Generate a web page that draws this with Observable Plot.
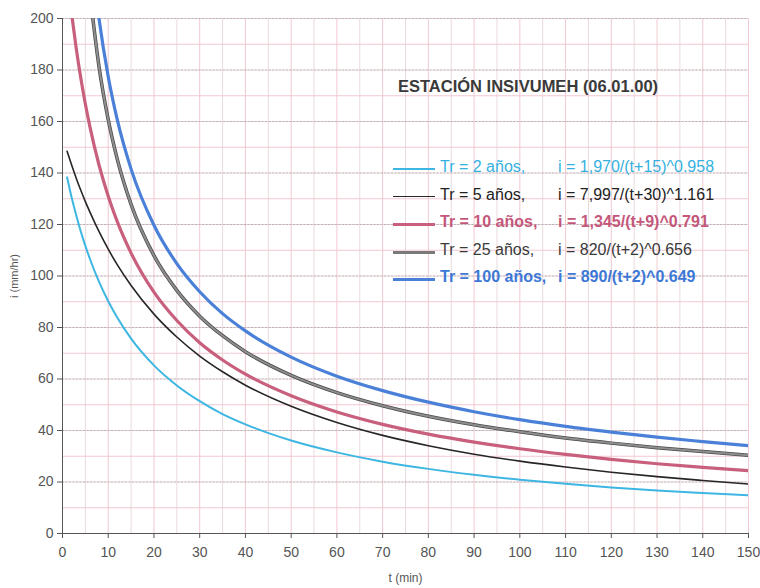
<!DOCTYPE html>
<html>
<head>
<meta charset="utf-8">
<script src="https://cdn.jsdelivr.net/npm/d3@7"></script>
<script src="https://cdn.jsdelivr.net/npm/@observablehq/plot@0.6"></script>
<style>
  html, body { margin: 0; padding: 0; background: #fff; }
  #wrap { position: relative; width: 760px; height: 588px; font-family: "Liberation Sans", Arial, sans-serif; }
  #title { position: absolute; left: 398px; top: 77px; font-size: 16.5px; font-weight: bold; color: #3a3a3a; white-space: nowrap; }
  #legend { position: absolute; left: 393px; top: 156px; }
  .row { position: relative; height: 27.5px; font-size: 16px; white-space: nowrap; }
  .row .swatch { position: absolute; left: 0; top: 12px; width: 42px; }
  .row .name { position: absolute; left: 47px; top: 2px; }
  .row .eq { position: absolute; left: 165px; top: 2px; }
</style>
</head>
<body>
<div id="wrap">
  <div id="chart"></div>
  <div id="title">ESTACIÓN INSIVUMEH (06.01.00)</div>
  <div id="legend"></div>
</div>
<script>
// Intensity-duration-frequency curves, i (mm/hr) against duration t (min)
const seriesNames = ["Tr = 2 años,", "Tr = 5 años,", "Tr = 10 años,", "Tr = 25 años,", "Tr = 100 años,"];
const equations = [
  "i = 1,970/(t+15)^0.958",
  "i = 7,997/(t+30)^1.161",
  "i = 1,345/(t+9)^0.791",
  "i = 820/(t+2)^0.656",
  "i = 890/(t+2)^0.649"
];

const t2 = [1, 2, 3, 4, 5, 6, 8, 10, 12, 15, 20, 25, 30, 35, 40, 50, 60, 70, 80, 90, 100, 110, 120, 130, 140, 150];
const i2 = [138.3, 130.5, 123.6, 117.3, 111.7, 106.6, 97.7, 90.2, 83.8, 75.7, 65.3, 57.5, 51.4, 46.4, 42.4, 36.1, 31.5, 27.9, 25.1, 22.8, 20.9, 19.3, 17.9, 16.7, 15.7, 14.8];

const t5 = [1, 2, 3, 4, 5, 6, 8, 10, 12, 15, 20, 25, 30, 35, 40, 50, 60, 70, 80, 90, 100, 110, 120, 130, 140, 150];
const i5 = [148.4, 143.1, 138.0, 133.3, 128.9, 124.8, 117.2, 110.4, 104.3, 96.3, 85.2, 76.3, 68.9, 62.8, 57.6, 49.4, 43.1, 38.1, 34.1, 30.8, 28.1, 25.8, 23.8, 22.1, 20.6, 19.2];

const t10 = [2, 3, 4, 5, 6, 8, 10, 12, 15, 20, 25, 30, 35, 40, 50, 60, 70, 80, 90, 100, 110, 120, 130, 140, 150];
const i10 = [201.8, 188.4, 176.9, 166.8, 157.9, 143.0, 131.0, 121.0, 108.9, 93.7, 82.7, 74.1, 67.4, 61.9, 53.5, 47.2, 42.4, 38.6, 35.5, 32.9, 30.7, 28.8, 27.1, 25.7, 24.4];

const t25 = [6, 8, 10, 12, 15, 20, 25, 30, 35, 40, 50, 60, 70, 80, 90, 100, 110, 120, 130, 140, 150];
const i25 = [209.6, 181.1, 160.7, 145.2, 127.8, 107.9, 94.4, 84.4, 76.8, 70.6, 61.4, 54.7, 49.6, 45.5, 42.2, 39.5, 37.1, 35.1, 33.3, 31.8, 30.4];

const t100 = [7, 8, 10, 12, 15, 20, 25, 30, 35, 40, 50, 60, 70, 80, 90, 100, 110, 120, 130, 140, 150];
const i100 = [213.8, 199.7, 177.4, 160.5, 141.5, 119.7, 104.8, 93.9, 85.4, 78.7, 68.5, 61.1, 55.5, 51.0, 47.3, 44.2, 41.6, 39.4, 37.4, 35.7, 34.1];

const xTicks = d3.range(0, 151, 10);
const yTicks = d3.range(0, 201, 20);

const rows = (ts, is) => ts.map((t, k) => ({t, i: is[k]}));
const d2 = rows(t2, i2), d5 = rows(t5, i5), d10 = rows(t10, i10), d25 = rows(t25, i25), d100 = rows(t100, i100);

const pink = "#f1c9d1";
const curve = "monotone-x";

const chart = Plot.plot({
  width: 760,
  height: 588,
  marginLeft: 62,
  marginRight: 12,
  marginTop: 18,
  marginBottom: 55,
  style: {fontFamily: "'Liberation Sans', Arial, sans-serif", background: "#fff"},
  x: {domain: [0, 150]},
  y: {domain: [0, 200]},
  marks: [
    Plot.gridX(d3.range(5, 151, 10), {stroke: "#eadadd", strokeOpacity: 1}),
    Plot.gridX(d3.range(10, 151, 10), {stroke: pink, strokeOpacity: 1}),
    Plot.gridY(d3.range(10, 201, 20), {stroke: pink, strokeOpacity: 1}),
    Plot.gridY(d3.range(20, 201, 20), {stroke: "#ead3d8", strokeOpacity: 1}),
    Plot.gridY(d3.range(20, 201, 20), {stroke: "#8a8a8a", strokeOpacity: 0.45, strokeDasharray: "2,1.5"}),
    Plot.axisX({ticks: xTicks, tickSize: 5, tickPadding: 9, fontSize: 14, fill: "#555", stroke: "#555", label: null}),
    Plot.axisY({ticks: yTicks, tickSize: 5, tickPadding: 4, fontSize: 14, fill: "#555", stroke: "#555", label: null}),
    Plot.axisX({ticks: [], label: "t (min)", labelArrow: "none", labelAnchor: "center", labelOffset: 48, fontSize: 12, fill: "#555", tickSize: 0}),
    Plot.axisY({ticks: [], label: "i (mm/hr)", labelArrow: "none", labelAnchor: "center", labelOffset: 52, fontSize: 11, fill: "#555", tickSize: 0}),
    Plot.ruleX([0], {stroke: "#555"}),
    Plot.ruleY([0], {stroke: "#555"}),
    Plot.line(d2, {x: "t", y: "i", stroke: "#3db6e2", strokeWidth: 2, curve, clip: true}),
    Plot.line(d5, {x: "t", y: "i", stroke: "#262626", strokeWidth: 1.6, curve, clip: true}),
    Plot.line(d10, {x: "t", y: "i", stroke: "#c85f7c", strokeWidth: 3.2, curve, clip: true}),
    Plot.line(d25, {x: "t", y: "i", stroke: "#4a4a4a", strokeWidth: 3.5, curve, clip: true}),
    Plot.line(d25, {x: "t", y: "i", stroke: "#8e8e8e", strokeWidth: 2, curve, clip: true}),
    Plot.line(d100, {x: "t", y: "i", stroke: "#4a80d8", strokeWidth: 3.2, curve, clip: true})
  ]
});
document.getElementById("chart").appendChild(chart);

// Legend rows: swatch, return period and fitted equation
const legendStyles = [
  {color: "#35b1e0", swatch: "2px solid #3db6e2", bold: false},
  {color: "#222", swatch: "1.6px solid #262626", bold: false},
  {color: "#c4577a", swatch: "3px solid #c85f7c", bold: true},
  {color: "#3a3a3a", swatch: "3px solid #7a7a7a", bold: false},
  {color: "#3d78d6", swatch: "3px solid #4a80d8", bold: true}
];
const legend = document.getElementById("legend");
seriesNames.forEach((name, k) => {
  const s = legendStyles[k];
  const row = document.createElement("div");
  row.className = "row";
  row.style.color = s.color;
  row.style.fontWeight = s.bold ? "bold" : "normal";
  row.innerHTML = `<div class="swatch" style="border-top:${s.swatch}"></div><span class="name"></span><span class="eq"></span>`;
  row.querySelector(".name").textContent = name;
  row.querySelector(".eq").textContent = equations[k];
  legend.appendChild(row);
});
</script>
</body>
</html>
